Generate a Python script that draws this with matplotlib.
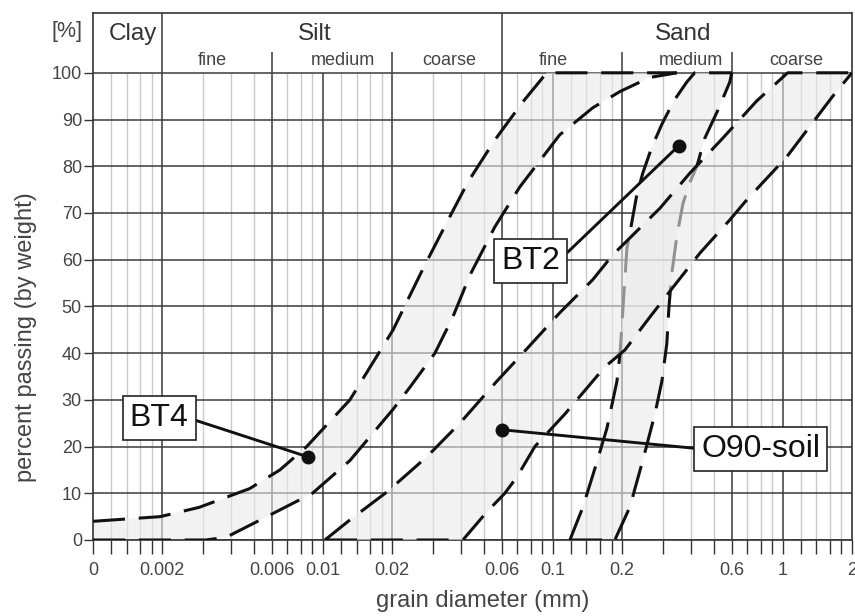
import matplotlib.pyplot as plt
from matplotlib.ticker import NullFormatter

plt.rcParams['font.family'] = ['Liberation Sans', 'DejaVu Sans']

# grading envelopes: grain diameter (mm) / percent passing
bt4_upper_d = [0.001, 0.00196, 0.0029, 0.0048, 0.0065, 0.0085, 0.0131, 0.0202, 0.0272, 0.0346,
               0.0427, 0.0559, 0.0741, 0.094, 0.346]
bt4_upper_p = [4.0, 5.0, 7.0, 11.0, 15.0, 20.0, 30.0, 45.0, 58.0, 68.0, 76.6, 85.6, 93.8, 100, 100]

bt4_lower_d = [0.001, 0.0031, 0.0038, 0.0057, 0.009, 0.0131, 0.0202, 0.0239, 0.0307, 0.0367,
               0.0436, 0.0559, 0.0719, 0.107, 0.149, 0.196, 0.264, 0.346]
bt4_lower_p = [0, 0, 0.6, 5, 10, 17, 28, 32.7, 40, 47.7, 56.7, 67, 75.6, 86.7, 92.5, 96, 99, 100]

o90_upper_d = [0.0102, 0.0131, 0.019, 0.0283, 0.0394, 0.0571, 0.0741, 0.107, 0.149, 0.182,
               0.292, 0.394, 0.548, 0.771, 1.05, 2.0]
o90_upper_p = [0, 4.3, 10.3, 17.8, 25, 34, 40, 48.6, 55.7, 61, 71, 78.5, 86, 94, 100, 100]

o90_lower_d = [0.0102, 0.0406, 0.0516, 0.0618, 0.0698, 0.0835, 0.113, 0.168, 0.206, 0.264,
               0.332, 0.436, 0.588, 0.697, 1.04, 1.65, 2.0]
o90_lower_p = [0, 0, 6, 10, 13.5, 20, 27, 37, 40.7, 47.7, 54, 61.4, 68.5, 72.8, 82, 95, 100]

bt2_left_d = [0.1186, 0.135, 0.155, 0.172, 0.190, 0.196, 0.202, 0.210, 0.2205, 0.232, 0.246,
              0.269, 0.298, 0.336, 0.382, 0.414, 0.6]
bt2_left_p = [0, 7, 16.5, 24, 34, 40, 50, 62.5, 68, 74, 78.5, 84, 89, 94, 98, 100, 100]

bt2_right_d = [0.1186, 0.186, 0.216, 0.246, 0.278, 0.298, 0.313, 0.320, 0.329, 0.346, 0.368,
               0.394, 0.423, 0.458, 0.522, 0.588, 0.6]
bt2_right_p = [0, 0, 7, 17, 27, 34, 42, 50, 57, 65, 72, 76.5, 80, 86, 92, 98, 100]

samples = ['BT4', 'BT2', 'O90-soil']
sample_d = [0.0086, 0.353, 0.060]
sample_p = [17.8, 84.4, 23.6]

x_ticks = [0.001, 0.002, 0.006, 0.01, 0.02, 0.06, 0.1, 0.2, 0.6, 1, 2]
x_tick_labels = ['0', '0.002', '0.006', '0.01', '0.02', '0.06', '0.1', '0.2', '0.6', '1', '2']
y_ticks = list(range(0, 101, 10))

fractions = ['Clay', 'Silt', 'Sand']
sub_fractions = ['fine', 'medium', 'coarse', 'fine', 'medium', 'coarse']

DARK = '#3a3a3a'
DASH = (0, (10.5, 4.5))

fig = plt.figure(figsize=(8.55, 6.16), dpi=100)
ax = fig.add_axes([93 / 855, 1 - 540 / 616, 759 / 855, 527 / 616])
ax.set_xscale('log')
ax.set_xlim(0.001, 2)
ax.set_ylim(0, 112.8)

# grid: minor log lines light, the labelled diameters dark
minor = [dec * m for dec in (0.001, 0.01, 0.1, 1)
         for m in (1.2, 1.4, 1.6, 1.8, 3, 4, 5, 7, 8, 9) if dec * m < 2]
ax.vlines(minor, 0, 100, color='#c9c9c9', lw=1.0, zorder=1)
ax.vlines(x_ticks[1:-1], 0, 100, color=DARK, lw=1.1, zorder=1.2)
ax.hlines(y_ticks, 0.001, 2, color=DARK, lw=1.1, zorder=1.2)

# header with soil fractions
ax.vlines([0.002, 0.06], 100, 112.8, color=DARK, lw=1.1)
ax.vlines([0.006, 0.02, 0.2, 0.6], 100, 104.5, color=DARK, lw=1.1)
for name, xpos in zip(fractions, [0.00149, 0.0092, 0.367]):
    ax.text(xpos, 107.0, name, ha='center', va='baseline', fontsize=17.5, color='#333')
for name, xpos in zip(sub_fractions, [0.0033, 0.0122, 0.0353, 0.1, 0.398, 1.14]):
    ax.text(xpos, 101.6, name, ha='center', va='baseline', fontsize=13, color='#444')


def band(upper_d, upper_p, lower_d, lower_p, z):
    xs = upper_d + lower_d[::-1]
    ys = upper_p + lower_p[::-1]
    ax.fill(xs, ys, color='#eaeaea', alpha=0.6, lw=0, zorder=z)


def curve(d, p, z):
    ax.plot(d, p, color='#111', lw=2.2, linestyle=DASH, dash_capstyle='butt', zorder=z)


band(bt4_upper_d, bt4_upper_p, bt4_lower_d, bt4_lower_p, 2)
band(bt2_left_d, bt2_left_p, bt2_right_d, bt2_right_p, 2)
curve(bt2_left_d, bt2_left_p, 3)
curve(bt2_right_d, bt2_right_p, 3)
band(o90_upper_d, o90_upper_p, o90_lower_d, o90_lower_p, 4)
curve(bt4_upper_d, bt4_upper_p, 5)
curve(bt4_lower_d, bt4_lower_p, 5)
curve(o90_upper_d, o90_upper_p, 5)
curve(o90_lower_d, o90_lower_p, 5)

# sample labels with leader lines
box_pos = [(0.00194, 26.1), (0.080, 59.7), (0.80, 19.5)]
rel_pos = [(1, 0.5), (1, 0.55), (0, 0.5)]
for name, d, p, bp, rp in zip(samples, sample_d, sample_p, box_pos, rel_pos):
    ax.annotate(name, xy=(d, p), xytext=bp, ha='center', va='center', fontsize=23, color='#111',
                bbox=dict(boxstyle='square,pad=0.22', fc='white', ec='#222', lw=1.2),
                arrowprops=dict(arrowstyle='-', color='#111', lw=2.1, shrinkA=0, shrinkB=0,
                                relpos=rp),
                zorder=8)
ax.plot(sample_d, sample_p, 'o', ms=9, color='#111', zorder=9, ls='none')

ax.set_xticks(x_ticks, x_tick_labels)
ax.set_xticks(minor, minor=True)
ax.xaxis.set_minor_formatter(NullFormatter())
ax.set_yticks(y_ticks)
ax.tick_params(axis='x', which='both', direction='out', length=10, width=1, color='#333',
               labelsize=13, labelcolor='#444', pad=6)
ax.tick_params(axis='y', direction='out', length=6.5, width=1, color='#333',
               labelsize=13, labelcolor='#444', pad=1.5)
for sp in ax.spines.values():
    sp.set_color('#333')
    sp.set_linewidth(1.2)

fig.text(82 / 855, 1 - 32 / 616, '[%]', ha='right', va='center', fontsize=15.5, color='#444')
fig.text(26 / 855, 1 - 337 / 616, 'percent passing (by weight)', rotation=90,
         ha='center', va='center', fontsize=17, color='#444')
fig.text(483 / 855, 1 - 601 / 616, 'grain diameter (mm)', ha='center', va='center',
         fontsize=17, color='#444')

fig.savefig('out.png', dpi=100)
